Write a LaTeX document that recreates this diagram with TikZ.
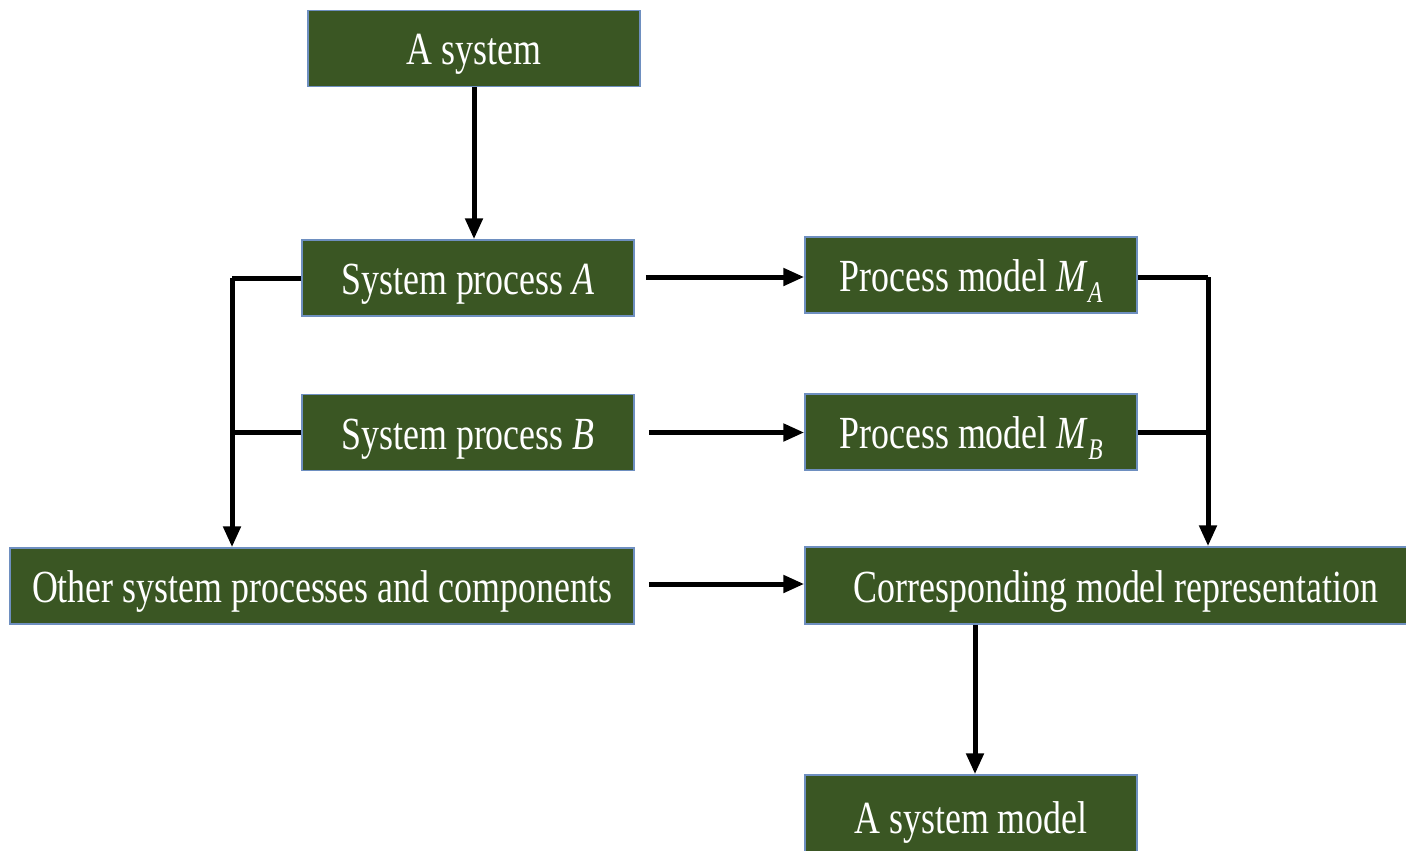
\documentclass[tikz,border=0pt]{standalone}
\usepackage{fontspec}
\setmainfont{Liberation Serif}[FakeStretch=0.78]
\usetikzlibrary{arrows.meta,calc}
\definecolor{boxfill}{HTML}{3A5623}
\definecolor{boxedge}{HTML}{6E8FC0}
\newcommand{\subA}[1]{\raisebox{-0.5ex}{\fontsize{30}{30}\selectfont\textit{#1}}}
\begin{document}
\begin{tikzpicture}[x=1pt,y=-1pt,
  block/.style={rectangle, draw=boxedge, line width=1.5pt, fill=boxfill,
    text=white, inner sep=0pt, minimum height=76pt,
    text height=38pt, text depth=5pt,
    font=\fontsize{46}{50}\selectfont},
  link/.style={line width=5pt, line join=miter, -{Triangle[length=21pt,width=17pt]}},
  plain/.style={line width=5pt, line join=miter}]
\useasboundingbox (0,0) rectangle (1406,851);
\clip (0,0) rectangle (1406,851);

% boxes
\node[block, minimum width=332pt] (sys)   at (474,48.5) {A system};
\node[block, minimum width=332pt] (spa)   at (468,278)  {System process \textit{A}};
\node[block, minimum width=332pt] (spb)   at (468,432.5){System process \textit{B}};
\node[block, minimum width=624pt] (other) at (322,586)  {Other system processes and components};
\node[block, minimum width=332pt] (ma)    at (971,275)  {Process model \textit{M}\subA{A}};
\node[block, minimum width=332pt] (mb)    at (971,432)  {Process model \textit{M}\subA{B}};
\node[block, minimum width=622pt, minimum height=77pt] (corr) at (1116,585.5) {Corresponding model representation};
\node[block, minimum width=332pt, minimum height=84pt] (smod) at (971,817) {A system model};

% junction points of the two collecting brackets
\coordinate (lb) at (232,278);
\coordinate (rb) at (1208,277);

% vertical flow
\draw[link] (sys.south) -- (sys.south |- spa.north);
\draw[link] ([xshift=4pt]corr.south -| smod.north) -- (smod.north -| 975,0);

% left bracket: system processes feed the other processes
\draw[plain] (spa.west) -- (lb);
\draw[plain] (spb.west) -- (lb |- spb.west);
\draw[link] (lb) -- (lb |- other.north);

% right bracket: process models feed the model representation
\draw[plain] (ma.east |- rb) -- (rb);
\draw[plain] (mb.east) -- (rb |- mb.east);
\draw[link] (rb) -- (rb |- corr.north);

% horizontal mappings
\draw[link] ([xshift=11pt]spa.east |- 0,277) -- (ma.west |- 0,277);
\draw[link] ([xshift=14pt]spb.east) -- (mb.west |- spb.east);
\draw[link] ([xshift=14pt]other.east |- 0,584) -- (corr.west |- 0,584);
\end{tikzpicture}
\end{document}
